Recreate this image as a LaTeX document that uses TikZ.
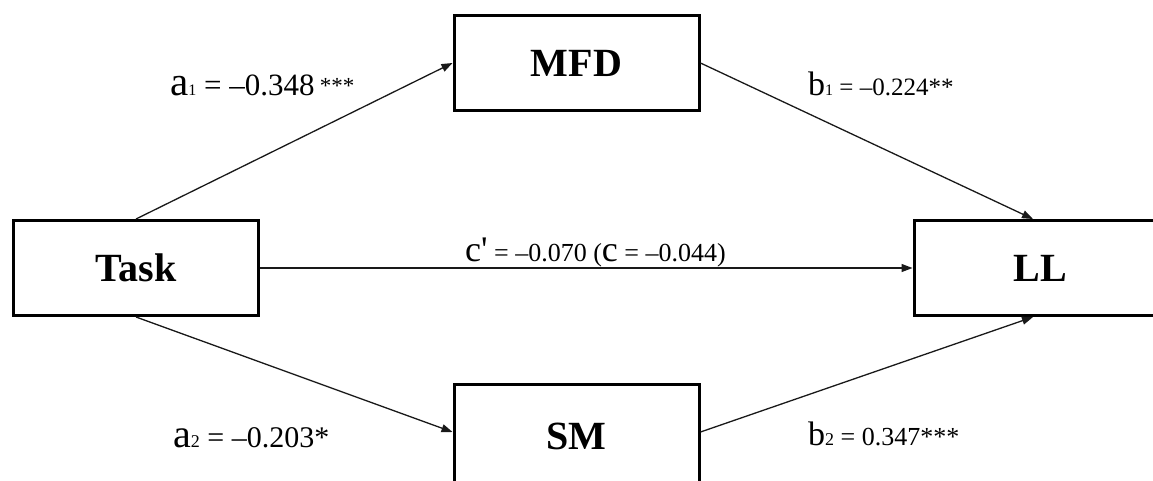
\documentclass[tikz,border=0pt]{standalone}
\usepackage{fontspec}
\setmainfont{Liberation Serif}
\usetikzlibrary{arrows.meta}
\newcommand{\fsz}[2]{{\fontsize{#1}{#1}\selectfont #2}}

\begin{document}
\begin{tikzpicture}[x=1pt, y=-1pt,
    varbox/.style={draw, line width=3pt, minimum width=245pt, minimum height=95pt,
      font=\fontsize{40}{40}\selectfont\bfseries},
    pathline/.style={draw=black!90, line width=1.3pt, -{Triangle[length=11pt,width=8pt]}},
    coef/.style={anchor=base west, inner sep=0pt, font=\fontsize{31}{31}\selectfont}]
    \useasboundingbox (0,0) rectangle (1153,480);
    \clip (0,0) rectangle (1153,480);

    % 四个变量框
    \node[varbox] (task) at (136,268) {Task};
    \node[varbox] (mfd) at (576.5,63) {MFD};
    \node[varbox, minimum width=252pt] (ll) at (1040,268) {LL};
    \node[varbox, minimum height=104pt] (sm) at (576.5,436) {SM};

    % 路径
    \draw[pathline] (task.north) -- (mfd.west);
    \draw[pathline] (task.south) -- ([yshift=4pt]sm.west);
    \draw[pathline] (mfd.east) -- ([xshift=-7pt]ll.north);
    \draw[pathline] ([yshift=4pt]sm.east) -- ([xshift=-7pt]ll.south);
    \draw[pathline] (task.east) -- (ll.west);

    % 路径系数
    \node[coef] (a1) at (170,95) {\fsz{41}{a}\fsz{16}{1} = –0.348\,\fsz{23}{\raisebox{2pt}{***}}};
    \node[coef, font=\fontsize{30}{30}\selectfont] (a2) at (173,447) {\fsz{40}{a}\fsz{18}{2} = –0.203*};
    \node[coef, font=\fontsize{25}{25}\selectfont] (b1) at (808,95) {\fsz{34}{b}\fsz{16}{1} = –0.224**};
    \node[coef, font=\fontsize{26}{26}\selectfont] (b2) at (808,445) {\fsz{34}{b}\fsz{18}{2} = 0.347***};
    \node[coef, font=\fontsize{26}{26}\selectfont] (c) at (465,261) {\fsz{36}{c\textquotesingle} = –0.070 (\fsz{36}{c} = –0.044)};
\end{tikzpicture}
\end{document}
